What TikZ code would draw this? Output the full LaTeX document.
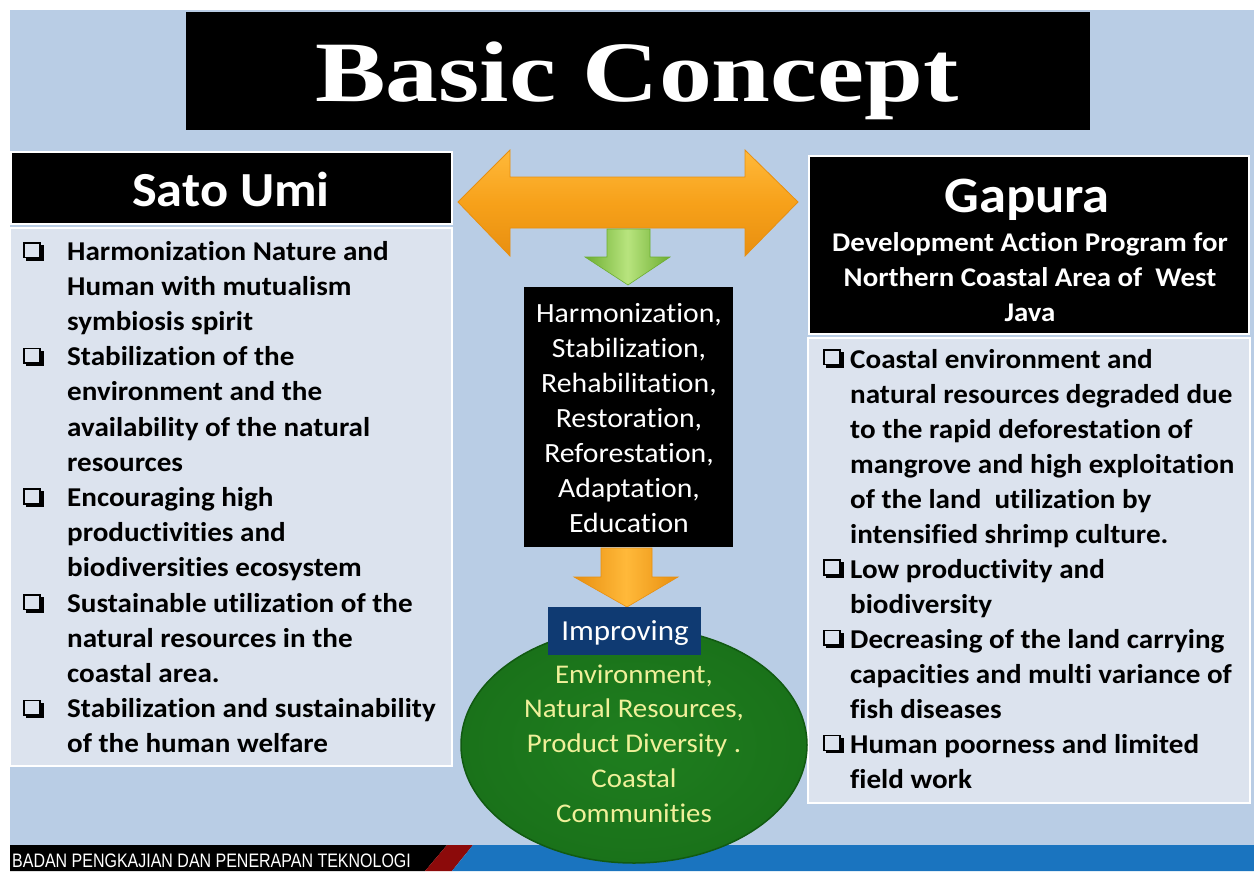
\documentclass[tikz,border=0pt]{standalone}
\usepackage{fontspec}
\setmainfont{Carlito}[Ligatures=NoCommon, FakeStretch=1.07]
\newfontfamily\titlefont{Liberation Serif}
\newfontfamily\barfont{Liberation Sans}
\usetikzlibrary{shapes.geometric}

\definecolor{pagebg}{HTML}{B9CDE5}
\definecolor{panelfill}{HTML}{DCE3EE}
\definecolor{orangemid}{HTML}{F7A11A}
\definecolor{orangelight}{HTML}{FFB93A}
\definecolor{orangedark}{HTML}{E88F10}
\definecolor{greenmid}{HTML}{92D050}
\definecolor{greenlight}{HTML}{B8E47E}
\definecolor{greendark}{HTML}{6DAE32}
\definecolor{ellgreen}{HTML}{1A721A}
\definecolor{ellgreenin}{HTML}{1F7E1F}
\definecolor{ellgreendark}{HTML}{115A11}
\definecolor{navybox}{HTML}{0F3A72}
\definecolor{paleyellow}{HTML}{F0F09A}
\definecolor{barblue}{HTML}{1A74BF}
\definecolor{barred}{HTML}{8C0A0A}

\tikzset{
  box/.style={inner sep=0pt, outer sep=0pt},
  headbox/.style={box, fill=black, draw=white, line width=2pt},
  panel/.style={box, fill=panelfill, draw=white, line width=2.5pt},
  listtext/.style={anchor=base west, inner sep=0pt, text=black,
    font=\fontsize{27.2}{35}\selectfont\bfseries},
  actiontext/.style={anchor=base, inner sep=0pt, text=white,
    font=\fontsize{27.8}{35}\selectfont},
  goaltext/.style={anchor=base, inner sep=0pt, text=paleyellow,
    font=\fontsize{27}{35}\selectfont},
  subtitle/.style={anchor=base, inner sep=0pt, text=white,
    font=\fontsize{27}{35}\selectfont\bfseries},
  chk/.pic={
    \draw[line width=1.5pt] (0.75,0.75) rectangle (17,15.5);
    \draw[line width=2.6pt] (3,17.2) -- (19.2,17.2) -- (19.2,3);
  }
}

\begin{document}
\begin{tikzpicture}[x=1pt,y=-1pt]
\useasboundingbox (0,0) rectangle (1254,871);
\fill[white] (0,0) rectangle (1254,871);
\fill[pagebg] (10,10) rectangle (1254,845);

% title bar
\node[box, fill=black, minimum width=904, minimum height=118] (title) at (638,71) {};
\node[anchor=base, inner sep=0pt, text=white,
      font=\titlefont\bfseries\fontsize{86}{86}\selectfont] (titletext) at (637,101)
      {\scalebox{1.23}[1]{Basic Concept}};

% left panel: Sato Umi
\node[headbox, minimum width=441, minimum height=72] (satohead) at (231.5,188) {};
\node[panel, minimum width=442, minimum height=538] (satobody) at (231,497) {};
\node[anchor=base, inner sep=0pt, text=white,
      font=\fontsize{49}{49}\selectfont\bfseries] (satotitle) at (231,206) {Sato Umi};

% right panel: Gapura
\node[headbox, minimum width=440, minimum height=178] (gaphead) at (1029,245) {};
\node[panel, minimum width=442, minimum height=465] (gapbody) at (1029,570.5) {};
\node[anchor=base, inner sep=0pt, text=white,
      font=\fontsize{51}{51}\selectfont\bfseries] (gaptitle) at (1027,212) {Gapura};
\node[subtitle] (gapsub1) at (1030,251) {Development Action Program for};
\node[subtitle] (gapsub2) at (1030,286) {Northern Coastal Area of\ \ West};
\node[subtitle] (gapsub3) at (1030,321) {Java};

% double arrow between the two panels
\shade[top color=orangelight, bottom color=orangedark, middle color=orangemid,
       draw=orangedark, line width=0.8pt]
  (458,202) -- (510,150) -- (510,177) -- (745,177) -- (745,150) -- (798,202)
  -- (745,256) -- (745,228) -- (510,228) -- (510,256) -- cycle;

% green arrow down to the action box
\shade[left color=greendark, right color=greendark, middle color=greenlight,
       draw=greendark, line width=0.6pt]
  (607,229) -- (650,229) -- (650,257) -- (670,257) -- (628,285) -- (585,257)
  -- (607,257) -- cycle;

% action box
\node[box, fill=black, minimum width=209, minimum height=260] (actions) at (628.5,417) {};
\foreach \t [count=\i from 0] in {{Harmonization,},{Stabilization,},{Rehabilitation,},
    {Restoration,},{Reforestation,},{Adaptation,},{Education}}
  \node[actiontext] (act-\i) at (629,{322+35.1*\i}) {\t};

% orange arrow down to the goal
\shade[left color=orangedark, right color=orangedark, middle color=orangelight,
       draw=orangedark, line width=0.6pt]
  (601,548) -- (652,548) -- (652,577) -- (678,577) -- (627,607) -- (574,577)
  -- (601,577) -- cycle;

% footer bar
\fill[black] (10,845) -- (447,845) -- (425,871) -- (10,871) -- cycle;
\fill[barred] (447,845) -- (473,845) -- (452,871) -- (425,871) -- cycle;
\fill[barblue] (473,845) -- (1254,845) -- (1254,871) -- (452,871) -- cycle;
\node[anchor=base west, inner sep=0pt, text=white,
      font=\barfont\fontsize{19.5}{19.5}\selectfont] (agency) at (12,867)
      {\scalebox{0.82}[1]{BADAN PENGKAJIAN DAN PENERAPAN TEKNOLOGI}};

% goal ellipse
\node[ellipse, box, minimum width=346, minimum height=236,
      inner color=ellgreenin, outer color=ellgreen,
      draw=ellgreendark, line width=1.5pt] (goal) at (634,745) {};
\node[box, fill=navybox, minimum width=153, minimum height=48] (improve) at (624.5,631) {};
\node[anchor=base, inner sep=0pt, text=white,
      font=\fontsize{29}{29}\selectfont] (improvetext) at (625,640) {Improving};
\foreach \t [count=\i from 0] in {{Environment,},{Natural Resources,},{Product Diversity .},
    {Coastal},{Communities}}
  \node[goaltext] (goal-\i) at (634,{683+34.8*\i}) {\t};

% Sato Umi list
\foreach \t [count=\i from 0] in {Harmonization Nature and, Human with mutualism,
    symbiosis spirit, Stabilization of the, environment and the,
    availability of the natural, resources, Encouraging high, productivities and,
    biodiversities ecosystem, Sustainable utilization of the, natural resources in the,
    coastal area., Stabilization and sustainability, of the human welfare}
  \node[listtext] (sato-\i) at (67,{260+35.2*\i}) {\t};
\foreach \k in {0,3,7,10,13}
  \pic at (23,{260+35.2*\k-18}) {chk};

% Gapura list
\foreach \t [count=\i from 0] in {Coastal environment and, natural resources degraded due,
    to the rapid deforestation of, mangrove and high exploitation,
    of the land\ \ utilization by, intensified shrimp culture., Low productivity and,
    biodiversity, Decreasing of the land carrying, capacities and multi variance of,
    fish diseases, Human poorness and limited, field work}
  \node[listtext] (gap-\i) at (850,{368+35.08*\i}) {\t};
\foreach \k in {0,6,8,11}
  \pic at (823,{368+35.08*\k-19}) {chk};
\end{tikzpicture}
\end{document}
